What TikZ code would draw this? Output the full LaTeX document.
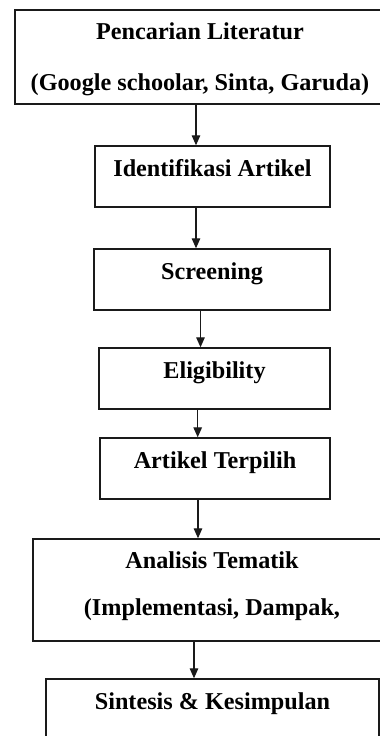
\documentclass[tikz,border=0pt]{standalone}
\usepackage{fontspec}
\setmainfont{Liberation Serif}
\usepackage{xcolor}
\usepackage{tikz}
\usetikzlibrary{positioning, arrows.meta}
\definecolor{inkline}{HTML}{1A1A1A}
\tikzset{
  stepbox/.style={draw=inkline, line width=1.4pt, fill=white, align=center, font=\fontsize{24.2}{28}\selectfont\bfseries, inner sep=0pt},
  onestep/.style={stepbox, text height=12pt, text depth=12pt, minimum height=61pt},
  arrow/.style={-{Triangle[length=10pt, width=8.5pt]}, line width=1.3pt, draw=inkline},
}

\begin{document}
\begin{tikzpicture}
  \fill[white] (0,0) rectangle (380pt,-736pt);
  \useasboundingbox (0,0) rectangle (380pt,-736pt);
  \clip (0,0) rectangle (380pt,-736pt);

  % Literature search (box runs past the right margin)
  \node[stepbox, minimum width=370pt, minimum height=94pt, text depth=0pt] (search) at (200pt,-57pt)
    {Pencarian Literatur\\[23pt](Google schoolar, Sinta, Garuda)};

  % Selection steps
  \node[onestep, minimum width=235pt, below=40.6pt of search, xshift=12.5pt] (ident) {Identifikasi Artikel};
  \node[onestep, minimum width=236pt, below=40.6pt of ident, xshift=-0.5pt] (screen) {Screening};
  \node[onestep, minimum width=231pt, below=36.6pt of screen, xshift=2.5pt] (elig) {Eligibility};
  \node[onestep, minimum width=230pt, below=27.6pt of elig, xshift=0.5pt] (chosen) {Artikel Terpilih};

  % Analysis and synthesis
  \node[stepbox, minimum width=358pt, minimum height=102pt, text depth=12pt, below=38.6pt of chosen, xshift=-3pt] (themes)
    {Analisis Tematik\\[19pt](Implementasi, Dampak,};
  \node[onestep, minimum width=333pt, below=36.6pt of themes, xshift=0.5pt] (synth) {Sintesis \& Kesimpulan};

  % Arrows
  \draw[arrow] ([xshift=-4pt]search.south) -- ([xshift=-16.5pt]ident.north);
  \draw[arrow] ([xshift=-16.5pt]ident.south) -- ([xshift=-16pt]screen.north);
  \draw[arrow] ([xshift=-11.5pt]screen.south) -- ([xshift=-14pt]elig.north);
  \draw[arrow] ([xshift=-16.8pt]elig.south) -- ([xshift=-17.3pt]chosen.north);
  \draw[arrow] ([xshift=-17pt]chosen.south) -- ([xshift=-14pt]themes.north);
  \draw[arrow] ([xshift=-18pt]themes.south) -- ([xshift=-18.5pt]synth.north);
\end{tikzpicture}
\end{document}
